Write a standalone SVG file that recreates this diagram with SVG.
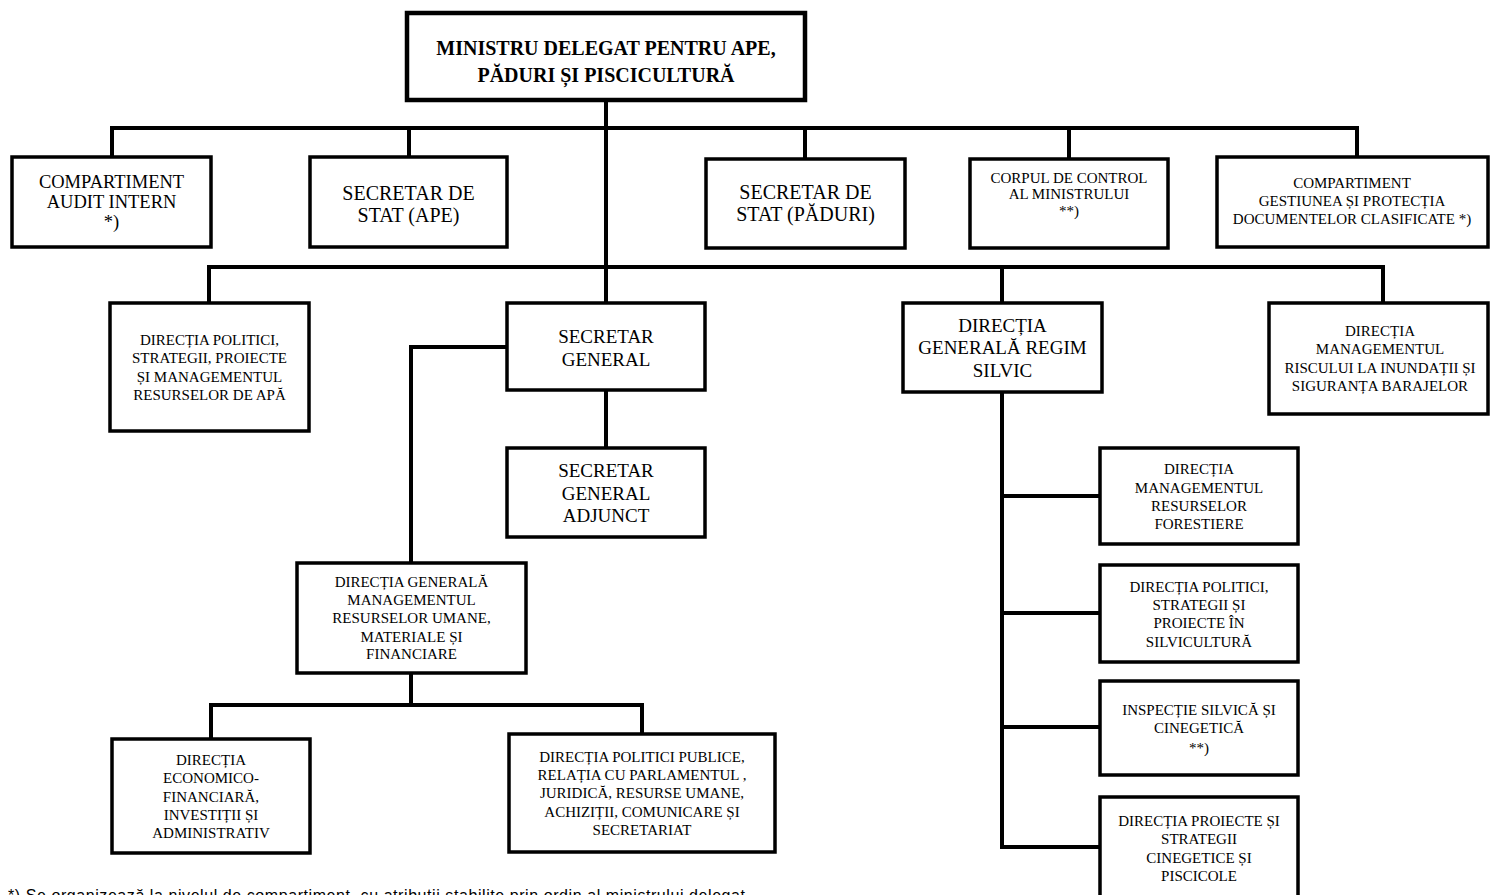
<svg xmlns="http://www.w3.org/2000/svg" width="1490" height="895" viewBox="0 0 1490 895">
<style>
.box{fill:#fff;stroke:#000;stroke-width:3.5}
.top{fill:#fff;stroke:#000;stroke-width:4.5}
.con{fill:none;stroke:#000;stroke-width:4;stroke-linecap:square}
text{font-family:"Liberation Serif","Times New Roman",serif;fill:#000;text-anchor:middle}
.t20{font-size:20px}
.t19{font-size:19px}
.t18{font-size:18.5px}
.t15{font-size:15px}
.b{font-weight:bold}
.note{font-family:"Liberation Sans",Arial,sans-serif;font-size:16px;text-anchor:start}
</style>
<rect width="1490" height="895" fill="#fff"/>
<g id="connectors">
<path class="con" d="M606 100 V303"/>
<path class="con" d="M112 157 V128 H1357 V157"/>
<path class="con" d="M409 128 V157 M805 128 V159 M1069 128 V159"/>
<path class="con" d="M209 303 V267 H1383 V303"/>
<path class="con" d="M1002 267 V303"/>
<path class="con" d="M606 390 V448"/>
<path class="con" d="M507 347 H411 V563"/>
<path class="con" d="M411 673 V705"/>
<path class="con" d="M211 739 V705 H642 V734"/>
<path class="con" d="M1002 392 V847 H1100"/>
<path class="con" d="M1002 496 H1100 M1002 613 H1100 M1002 727 H1100"/>
</g>
<g id="n-ministru">
<rect class="top" x="407" y="13" width="398" height="87"/>
<text class="t20 b"><tspan x="606" y="55">MINISTRU DELEGAT PENTRU APE,</tspan><tspan x="606" y="82">PĂDURI ȘI PISCICULTURĂ</tspan></text>
</g>
<g id="n-audit">
<rect class="box" x="12" y="157" width="199" height="90"/>
<text class="t18"><tspan x="111.5" y="188">COMPARTIMENT</tspan><tspan x="111.5" y="208">AUDIT INTERN</tspan><tspan x="111.5" y="228">*)</tspan></text>
</g>
<g id="n-ss-ape">
<rect class="box" x="310" y="157" width="197" height="90"/>
<text class="t20"><tspan x="408.5" y="200">SECRETAR DE</tspan><tspan x="408.5" y="222">STAT (APE)</tspan></text>
</g>
<g id="n-ss-paduri">
<rect class="box" x="706" y="159" width="199" height="89"/>
<text class="t20"><tspan x="805.5" y="199">SECRETAR DE</tspan><tspan x="805.5" y="221">STAT (PĂDURI)</tspan></text>
</g>
<g id="n-corpul">
<rect class="box" x="970" y="159" width="198" height="89"/>
<text class="t15"><tspan x="1069" y="183">CORPUL DE CONTROL</tspan><tspan x="1069" y="199">AL MINISTRULUI</tspan><tspan x="1069" y="216">**)</tspan></text>
</g>
<g id="n-gestiunea">
<rect class="box" x="1217" y="157" width="271" height="90"/>
<text class="t15"><tspan x="1352" y="188">COMPARTIMENT</tspan><tspan x="1352" y="206">GESTIUNEA ȘI PROTECȚIA</tspan><tspan x="1352" y="224">DOCUMENTELOR CLASIFICATE *)</tspan></text>
</g>
<g id="n-dir-politici-apa">
<rect class="box" x="110" y="303" width="199" height="128"/>
<text class="t15"><tspan x="209.5" y="345">DIRECȚIA POLITICI,</tspan><tspan x="209.5" y="363">STRATEGII, PROIECTE</tspan><tspan x="209.5" y="382">ȘI MANAGEMENTUL</tspan><tspan x="209.5" y="400">RESURSELOR DE APĂ</tspan></text>
</g>
<g id="n-sg">
<rect class="box" x="507" y="303" width="198" height="87"/>
<text class="t19"><tspan x="606" y="343">SECRETAR</tspan><tspan x="606" y="366">GENERAL</tspan></text>
</g>
<g id="n-sga">
<rect class="box" x="507" y="448" width="198" height="89"/>
<text class="t19"><tspan x="606" y="477">SECRETAR</tspan><tspan x="606" y="500">GENERAL</tspan><tspan x="606" y="522">ADJUNCT</tspan></text>
</g>
<g id="n-dg-silvic">
<rect class="box" x="903" y="303" width="199" height="89"/>
<text class="t19"><tspan x="1002.5" y="332">DIRECȚIA</tspan><tspan x="1002.5" y="354">GENERALĂ REGIM</tspan><tspan x="1002.5" y="377">SILVIC</tspan></text>
</g>
<g id="n-inundatii">
<rect class="box" x="1269" y="303" width="219" height="111"/>
<text class="t15"><tspan x="1380" y="336">DIRECȚIA</tspan><tspan x="1380" y="354">MANAGEMENTUL</tspan><tspan x="1380" y="373">RISCULUI LA INUNDAȚII ȘI</tspan><tspan x="1380" y="391">SIGURANȚA BARAJELOR</tspan></text>
</g>
<g id="n-dg-mrumf">
<rect class="box" x="297" y="563" width="229" height="110"/>
<text class="t15"><tspan x="411.5" y="587">DIRECȚIA GENERALĂ</tspan><tspan x="411.5" y="605">MANAGEMENTUL</tspan><tspan x="411.5" y="623">RESURSELOR UMANE,</tspan><tspan x="411.5" y="642">MATERIALE ȘI</tspan><tspan x="411.5" y="659">FINANCIARE</tspan></text>
</g>
<g id="n-economico">
<rect class="box" x="112" y="739" width="198" height="114"/>
<text class="t15"><tspan x="211" y="765">DIRECȚIA</tspan><tspan x="211" y="783">ECONOMICO-</tspan><tspan x="211" y="802">FINANCIARĂ,</tspan><tspan x="211" y="820">INVESTIȚII ȘI</tspan><tspan x="211" y="838">ADMINISTRATIV</tspan></text>
</g>
<g id="n-politici-publice">
<rect class="box" x="509" y="734" width="266" height="118"/>
<text class="t15"><tspan x="642" y="762">DIRECȚIA POLITICI PUBLICE,</tspan><tspan x="642" y="780">RELAȚIA CU PARLAMENTUL ,</tspan><tspan x="642" y="798">JURIDICĂ, RESURSE UMANE,</tspan><tspan x="642" y="817">ACHIZIȚII, COMUNICARE ȘI</tspan><tspan x="642" y="835">SECRETARIAT</tspan></text>
</g>
<g id="n-forestiere">
<rect class="box" x="1100" y="448" width="198" height="96"/>
<text class="t15"><tspan x="1199" y="474">DIRECȚIA</tspan><tspan x="1199" y="493">MANAGEMENTUL</tspan><tspan x="1199" y="511">RESURSELOR</tspan><tspan x="1199" y="529">FORESTIERE</tspan></text>
</g>
<g id="n-silvicultura">
<rect class="box" x="1100" y="565" width="198" height="97"/>
<text class="t15"><tspan x="1199" y="592">DIRECȚIA POLITICI,</tspan><tspan x="1199" y="610">STRATEGII ȘI</tspan><tspan x="1199" y="628">PROIECTE ÎN</tspan><tspan x="1199" y="647">SILVICULTURĂ</tspan></text>
</g>
<g id="n-inspectie">
<rect class="box" x="1100" y="681" width="198" height="94"/>
<text class="t15"><tspan x="1199" y="715">INSPECȚIE SILVICĂ ȘI</tspan><tspan x="1199" y="733">CINEGETICĂ</tspan><tspan x="1199" y="753">**)</tspan></text>
</g>
<g id="n-cinegetice">
<rect class="box" x="1100" y="797" width="198" height="110"/>
<text class="t15"><tspan x="1199" y="826">DIRECȚIA PROIECTE ȘI</tspan><tspan x="1199" y="844">STRATEGII</tspan><tspan x="1199" y="863">CINEGETICE ȘI</tspan><tspan x="1199" y="881">PISCICOLE</tspan></text>
</g>
<text class="note" x="8" y="901" textLength="737" lengthAdjust="spacing">*) Se organizează la nivelul de compartiment, cu atribuții stabilite prin ordin al ministrului delegat</text>
</svg>
